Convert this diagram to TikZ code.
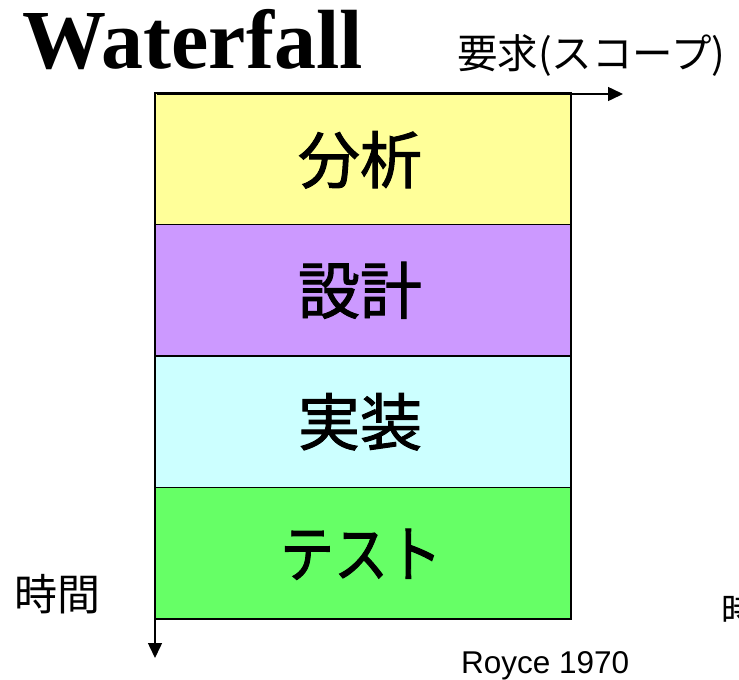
\documentclass[tikz,border=0pt]{standalone}
\usepackage{fontspec}
\setmainfont{Liberation Serif}
\newfontfamily\jp{Noto Sans CJK JP}
\newfontfamily\jpb[FakeBold=1.6]{Noto Sans CJK JP}
\newfontfamily\arial{Liberation Sans}
\usetikzlibrary{arrows.meta}
\definecolor{cyel}{HTML}{FFFF99}
\definecolor{cpur}{HTML}{CC99FF}
\definecolor{ccya}{HTML}{CCFFFF}
\definecolor{cgrn}{HTML}{66FF66}
\tikzset{
  band/.style={draw=black, line width=1.6pt, minimum width=416pt, minimum height=131.5pt, inner sep=0pt, outer sep=0pt, anchor=north west},
  phase/.style={font=\jpb\fontsize{62}{70}\selectfont, inner sep=0pt},
  axis/.style={line width=1.5pt, -{Triangle[length=15pt,width=14pt]}},
}
\begin{document}
\begin{tikzpicture}[x=1pt,y=-1pt]
\useasboundingbox (0,0) rectangle (739,680);
\fill[white] (0,0) rectangle (739,680);
\node[band, fill=cyel] (b1) at (155,93) {};
\node[band, fill=cpur] (b2) at (b1.south west) {};
\node[band, fill=ccya] (b3) at (b2.south west) {};
\node[band, fill=cgrn] (b4) at (b3.south west) {};
\node[phase] (t1) at ([xshift=-3pt,yshift=-1pt]b1.center) {分析};
\node[phase] (t2) at ([xshift=-3pt]b2.center) {設計};
\node[phase] (t3) at ([xshift=-3pt]b3.center) {実装};
\node[phase] (t4) at ([xshift=-2pt,yshift=-1pt]b4.center) {\scalebox{0.87}[1]{テスト}};
\coordinate (xa) at (157,94);
\coordinate (xe) at (623,94);
\coordinate (ya) at (155,94);
\coordinate (ye) at (155,658);
\draw[axis] (xa) -- (xe);
\draw[axis] (ya) -- (ye);
\node[font=\bfseries\fontsize{84}{92}\selectfont, inner sep=0pt, anchor=base west] (title) at (22,68) {Waterfall};
\node[font=\jp\fontsize{40.5}{46}\selectfont, inner sep=0pt, anchor=west] (req) at (457,55) {要求(スコープ)};
\node[font=\jp\fontsize{43}{50}\selectfont, inner sep=0pt] (time) at (57,594) {時間};
\node[font=\jp\fontsize{35}{40}\selectfont, inner sep=0pt, anchor=west] (time2) at (721,610) {時間};
\node[font=\arial\fontsize{31.5}{36}\selectfont, inner sep=0pt, anchor=base west] (royce) at (461,673) {Royce 1970};
\end{tikzpicture}
\end{document}
